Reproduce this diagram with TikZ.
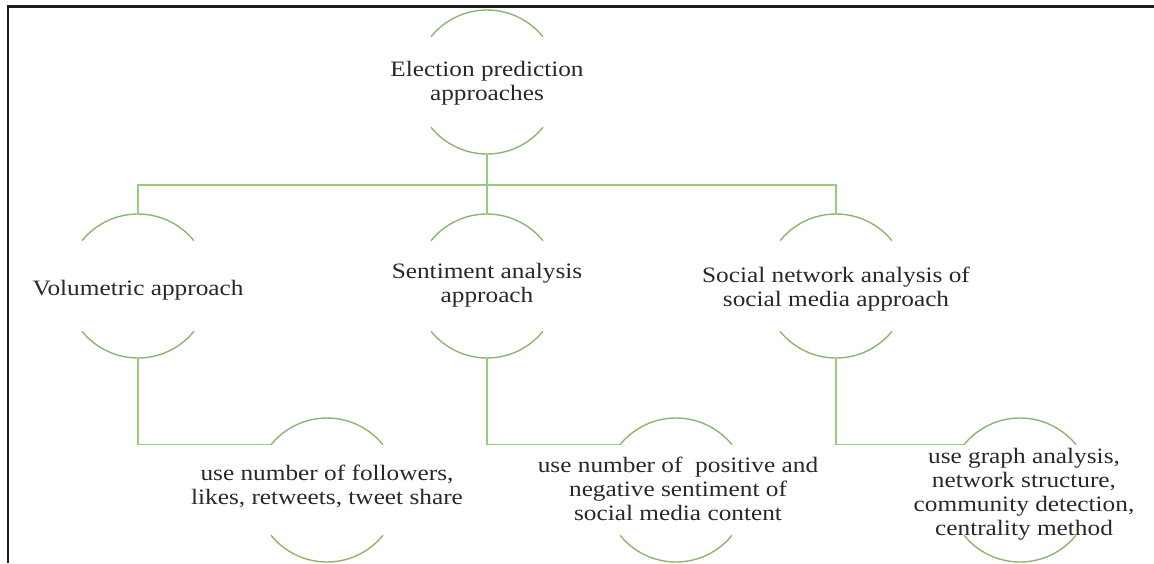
\documentclass[tikz,border=0pt]{standalone}
\usepackage{fontspec}
\setmainfont{Liberation Serif}[FakeStretch=1.15]
\definecolor{arcgreen}{RGB}{140,182,110}
\definecolor{linegreen}{RGB}{150,205,120}
\definecolor{txt}{RGB}{40,40,40}
\newcommand\halfarcs[1]{\draw[arcline] (#1.39) arc[start angle=39,end angle=141,radius=72] (#1.219) arc[start angle=219,end angle=321,radius=72];}
\begin{document}
\begin{tikzpicture}[x=1pt,y=1pt,
  hc/.style={circle, minimum size=144pt, inner sep=0pt, outer sep=0pt},
  lbl/.style={align=center, font=\fontsize{22}{24}\selectfont, text=txt, inner sep=0pt},
  arcline/.style={draw=arcgreen, line width=1.4pt},
  conn/.style={draw=linegreen, line width=1.3pt}]
\useasboundingbox (0,0) rectangle (1154,-563);
\draw[line width=2.2pt, black!88] (8,-563) -- (8,-6.5) -- (1154,-6.5);

\node[hc, label={[lbl,yshift=-1pt]center:{Election prediction\\approaches}}] (top) at (487,-82) {};
\node[hc, label={[lbl,yshift=-4pt]center:{Volumetric approach}}] (vol) at (138,-286) {};
\node[hc, label={[lbl,yshift=1pt]center:{Sentiment analysis\\approach}}] (sen) at (487,-286) {};
\node[hc, label={[lbl,yshift=-3pt]center:{Social network analysis of\\social media approach}}] (soc) at (836,-286) {};
\node[hc, label={[lbl,yshift=4pt]center:{use number of followers,\\likes, retweets, tweet share}}] (v3) at (327,-490) {};
\node[hc, label={[lbl,yshift=1.5pt,xshift=2pt]center:{use number of~ positive and\\negative sentiment of\\social media content}}] (s3) at (676,-490) {};
\node[hc, label={[lbl,yshift=-4pt,xshift=4pt]center:{use graph analysis,\\network structure,\\community detection,\\centrality method}}] (n3) at (1020,-490) {};

\halfarcs{top}
\halfarcs{vol}
\halfarcs{sen}
\halfarcs{soc}
\halfarcs{v3}
\halfarcs{s3}
\halfarcs{n3}

\coordinate (bus) at (487,-185);
\draw[conn] (top.south) -- (sen.north);
\draw[conn] (vol.north) -- (vol.north |- bus) -- (soc.north |- bus) -- (soc.north);
\draw[conn] (vol.south) |- (v3.141);
\draw[conn] (sen.south) |- (s3.141);
\draw[conn] (soc.south) |- (n3.141);
\end{tikzpicture}
\end{document}
